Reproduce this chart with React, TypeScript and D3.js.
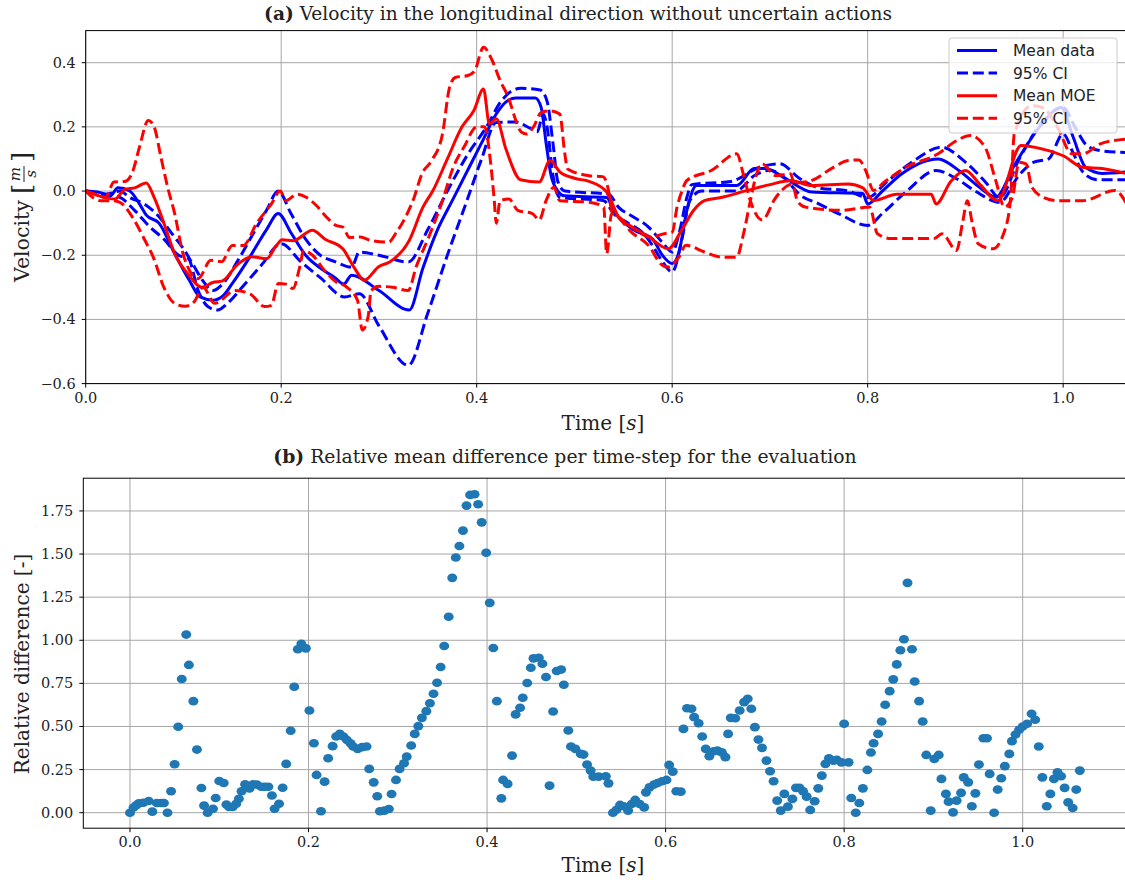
import React from "react";
import * as d3 from "d3";

// ---- panel (a): velocity traces, [time s, velocity m/s]
const meanData: [number, number][] = [
  [0, 0], [0.015, -0.005], [0.025, -0.015], [0.033, 0.01], [0.045, 0.0], [0.055, -0.04], [0.062, -0.075],
  [0.075, -0.1], [0.091, -0.195], [0.106, -0.278], [0.117, -0.33], [0.13, -0.34], [0.141, -0.325],
  [0.15, -0.288], [0.168, -0.205], [0.185, -0.12], [0.197, -0.07], [0.21, -0.13], [0.225, -0.2],
  [0.24, -0.24], [0.255, -0.27], [0.264, -0.29], [0.272, -0.262], [0.3, -0.31], [0.331, -0.371],
  [0.345, -0.24], [0.36, -0.12], [0.375, -0.03], [0.39, 0.06], [0.405, 0.15], [0.42, 0.24], [0.43, 0.278],
  [0.44, 0.29], [0.46, 0.29], [0.466, 0.26], [0.471, 0.15], [0.476, 0.05], [0.483, 0.0], [0.49, -0.015],
  [0.533, -0.02], [0.54, -0.06], [0.56, -0.12], [0.58, -0.15], [0.59, -0.2], [0.6, -0.226], [0.607, -0.19],
  [0.615, -0.06], [0.625, 0.017], [0.666, 0.017], [0.684, 0.07], [0.695, 0.07], [0.714, 0.043],
  [0.743, -0.003], [0.795, -0.008], [0.8, -0.04], [0.815, 0.0], [0.835, 0.054], [0.872, 0.1], [0.895, 0.06],
  [0.915, 0.01], [0.931, -0.019], [0.95, 0.08], [0.976, 0.2], [0.998, 0.26], [1.01, 0.17], [1.023, 0.074],
  [1.04, 0.055], [1.065, 0.06],
];
const dataUpper: [number, number][] = [
  [0, 0], [0.02, -0.01], [0.035, 0.0], [0.045, -0.02], [0.06, -0.04], [0.075, -0.08], [0.09, -0.14],
  [0.1, -0.18], [0.11, -0.23], [0.12, -0.28], [0.13, -0.31], [0.14, -0.29], [0.155, -0.22], [0.17, -0.14],
  [0.185, -0.06], [0.197, 0.0], [0.21, -0.07], [0.225, -0.15], [0.24, -0.2], [0.255, -0.22], [0.272, -0.237],
  [0.28, -0.19], [0.3, -0.2], [0.33, -0.221], [0.35, -0.12], [0.37, 0.0], [0.39, 0.11], [0.41, 0.2],
  [0.425, 0.28], [0.435, 0.31], [0.445, 0.32], [0.465, 0.315], [0.472, 0.28], [0.478, 0.15], [0.483, 0.03],
  [0.49, 0.0], [0.535, -0.01], [0.545, -0.05], [0.56, -0.08], [0.575, -0.11], [0.59, -0.16], [0.6, -0.19],
  [0.608, -0.12], [0.615, -0.02], [0.62, 0.02], [0.66, 0.03], [0.69, 0.075], [0.71, 0.085], [0.73, 0.04],
  [0.75, 0.01], [0.78, 0.0], [0.8, -0.02], [0.82, 0.03], [0.85, 0.1], [0.875, 0.137], [0.9, 0.09],
  [0.92, 0.03], [0.935, -0.02], [0.955, 0.1], [0.98, 0.22], [1.0, 0.26], [1.012, 0.2], [1.025, 0.14],
  [1.04, 0.125], [1.065, 0.12],
];
const dataLower: [number, number][] = [
  [0, 0], [0.02, -0.01], [0.035, -0.02], [0.05, -0.06], [0.065, -0.11], [0.08, -0.15], [0.095, -0.2],
  [0.105, -0.21], [0.115, -0.31], [0.125, -0.36], [0.135, -0.371], [0.145, -0.35], [0.16, -0.3],
  [0.18, -0.23], [0.2, -0.164], [0.22, -0.22], [0.24, -0.27], [0.265, -0.33], [0.28, -0.32], [0.3, -0.42],
  [0.33, -0.543], [0.35, -0.38], [0.37, -0.2], [0.39, -0.03], [0.405, 0.1], [0.42, 0.214], [0.44, 0.215],
  [0.455, 0.195], [0.462, 0.185], [0.468, 0.24], [0.472, 0.2], [0.478, 0.05], [0.485, -0.02], [0.53, -0.03],
  [0.54, -0.07], [0.555, -0.1], [0.57, -0.13], [0.58, -0.17], [0.59, -0.22], [0.6, -0.252], [0.61, -0.15],
  [0.618, -0.03], [0.63, 0.0], [0.665, 0.0], [0.685, 0.05], [0.7, 0.065], [0.715, 0.04], [0.73, -0.01],
  [0.75, -0.04], [0.77, -0.07], [0.8, -0.107], [0.815, -0.07], [0.84, 0.0], [0.87, 0.064], [0.89, 0.04],
  [0.91, 0.0], [0.935, -0.035], [0.955, 0.05], [0.97, 0.09], [0.985, 0.1], [1.0, 0.178], [1.01, 0.12],
  [1.02, 0.06], [1.035, 0.035], [1.065, 0.035],
];
const meanMoe: [number, number][] = [
  [0, 0], [0.02, -0.02], [0.03, -0.025], [0.04, 0.005], [0.05, 0.01], [0.062, 0.025], [0.07, -0.02],
  [0.08, -0.1], [0.091, -0.195], [0.105, -0.26], [0.119, -0.3], [0.13, -0.285], [0.14, -0.28],
  [0.155, -0.23], [0.17, -0.205], [0.185, -0.211], [0.195, -0.17], [0.201, -0.152], [0.212, -0.155],
  [0.232, -0.122], [0.245, -0.15], [0.263, -0.18], [0.275, -0.24], [0.285, -0.278], [0.3, -0.235],
  [0.311, -0.221], [0.331, -0.154], [0.345, -0.05], [0.355, 0.0], [0.37, 0.1], [0.385, 0.2], [0.397, 0.25],
  [0.407, 0.318], [0.413, 0.21], [0.42, 0.225], [0.43, 0.13], [0.445, 0.035], [0.464, 0.028], [0.475, 0.095],
  [0.485, 0.06], [0.5, 0.04], [0.515, 0.03], [0.533, -0.003], [0.545, -0.08], [0.559, -0.112],
  [0.575, -0.14], [0.596, -0.18], [0.61, -0.12], [0.622, -0.06], [0.633, -0.03], [0.65, -0.02],
  [0.677, 0.002], [0.7, 0.02], [0.721, 0.033], [0.743, 0.017], [0.78, 0.022], [0.795, 0.01], [0.806, -0.03],
  [0.83, -0.01], [0.865, -0.01], [0.87, -0.04], [0.885, 0.03], [0.9, 0.064], [0.915, 0.02], [0.933, -0.03],
  [0.957, 0.142], [0.98, 0.13], [1.0, 0.11], [1.02, 0.074], [1.04, 0.07], [1.065, 0.054],
];
const moeUpper: [number, number][] = [
  [0, 0], [0.01, -0.01], [0.02, -0.02], [0.029, 0.028], [0.04, 0.03], [0.048, 0.06], [0.055, 0.137],
  [0.064, 0.22], [0.07, 0.2], [0.077, 0.105], [0.084, 0.01], [0.091, -0.07], [0.1, -0.2], [0.115, -0.273],
  [0.128, -0.216], [0.139, -0.22], [0.15, -0.17], [0.161, -0.17], [0.175, -0.1], [0.19, -0.04], [0.199, 0.0],
  [0.205, -0.03], [0.216, -0.01], [0.226, -0.02], [0.236, -0.045], [0.246, -0.08], [0.256, -0.107],
  [0.263, -0.112], [0.27, -0.145], [0.281, -0.143], [0.292, -0.154], [0.31, -0.159], [0.318, -0.128],
  [0.329, -0.07], [0.336, -0.02], [0.344, 0.054], [0.354, 0.095], [0.365, 0.178], [0.372, 0.32],
  [0.378, 0.354], [0.391, 0.36], [0.398, 0.375], [0.407, 0.448], [0.416, 0.406], [0.424, 0.344],
  [0.431, 0.302], [0.446, 0.183], [0.451, 0.178], [0.458, 0.199], [0.466, 0.245], [0.475, 0.25],
  [0.485, 0.24], [0.49, 0.12], [0.493, 0.069], [0.515, 0.048], [0.529, 0.045], [0.535, 0.0], [0.538, -0.06],
  [0.545, -0.08], [0.56, -0.115], [0.577, -0.143], [0.592, -0.133], [0.6, -0.128], [0.605, -0.05],
  [0.61, 0.0], [0.615, 0.033], [0.64, 0.064], [0.666, 0.116], [0.673, 0.05], [0.68, -0.03], [0.692, -0.09],
  [0.706, -0.02], [0.72, 0.02], [0.743, 0.033], [0.765, 0.074], [0.78, 0.095], [0.791, 0.097],
  [0.798, 0.064], [0.806, 0.002], [0.817, 0.028], [0.839, 0.074], [0.872, 0.116], [0.891, 0.157],
  [0.905, 0.173], [0.92, 0.137], [0.931, 0.033], [0.94, -0.05], [0.948, -0.02], [0.955, 0.09],
  [0.962, 0.085], [0.968, 0.012], [0.98, -0.02], [0.994, -0.03], [1.02, -0.03], [1.053, 0.002],
  [1.065, -0.04],
];
const moeLower: [number, number][] = [
  [0, 0], [0.015, -0.03], [0.026, -0.03], [0.035, -0.035], [0.0475, -0.08], [0.06, -0.15], [0.069, -0.205],
  [0.08, -0.3], [0.091, -0.35], [0.102, -0.359], [0.111, -0.345], [0.12, -0.3], [0.132, -0.35],
  [0.153, -0.31], [0.168, -0.32], [0.183, -0.36], [0.19, -0.356], [0.197, -0.288], [0.205, -0.29],
  [0.212, -0.304], [0.219, -0.236], [0.223, -0.185], [0.232, -0.2], [0.245, -0.25], [0.256, -0.283],
  [0.267, -0.299], [0.278, -0.34], [0.283, -0.433], [0.289, -0.39], [0.292, -0.31], [0.3, -0.297],
  [0.314, -0.3], [0.33, -0.31], [0.338, -0.237], [0.351, -0.143], [0.365, -0.03], [0.376, 0.074],
  [0.387, 0.137], [0.4, 0.2], [0.408, 0.2], [0.414, 0.095], [0.418, -0.03], [0.42, -0.1], [0.424, -0.03],
  [0.433, -0.025], [0.442, -0.06], [0.457, -0.07], [0.464, -0.09], [0.471, -0.03], [0.479, 0.012],
  [0.485, -0.03], [0.515, -0.035], [0.53, -0.05], [0.533, -0.195], [0.538, -0.07], [0.559, -0.13],
  [0.577, -0.174], [0.588, -0.226], [0.596, -0.237], [0.607, -0.205], [0.614, -0.169], [0.633, -0.19],
  [0.651, -0.206], [0.666, -0.206], [0.673, -0.133], [0.68, -0.03], [0.686, 0.05], [0.692, 0.085],
  [0.706, 0.048], [0.721, 0.054], [0.728, -0.03], [0.736, -0.05], [0.773, -0.06], [0.802, -0.05],
  [0.81, -0.133], [0.824, -0.148], [0.868, -0.148], [0.876, -0.133], [0.891, -0.185], [0.897, -0.1],
  [0.902, -0.03], [0.907, -0.1], [0.913, -0.164], [0.928, -0.18], [0.939, -0.133], [0.946, -0.03],
  [0.95, 0.178], [0.968, 0.266], [0.979, 0.26], [0.994, 0.2], [1.009, 0.116], [1.02, 0.116],
  [1.038, 0.147], [1.065, 0.162],
];

// ---- panel (b): relative mean difference per time-step
const stepTime = [
  0.0, 0.004, 0.007, 0.01, 0.015, 0.021, 0.025, 0.03, 0.035, 0.038, 0.042, 0.046, 0.05, 0.054, 0.058, 0.063,
  0.066, 0.071, 0.075, 0.08, 0.083, 0.087, 0.093, 0.096, 0.1, 0.105, 0.108, 0.111, 0.115, 0.119, 0.122,
  0.125, 0.129, 0.134, 0.138, 0.142, 0.147, 0.151, 0.155, 0.159, 0.162, 0.167, 0.171, 0.175, 0.18, 0.184,
  0.188, 0.192, 0.197, 0.201, 0.206, 0.209, 0.214, 0.218, 0.222, 0.227, 0.231, 0.235, 0.239, 0.243, 0.247,
  0.25, 0.255, 0.26, 0.265, 0.268, 0.273, 0.277, 0.28, 0.285, 0.29, 0.293, 0.298, 0.302, 0.307, 0.31,
  0.315, 0.319, 0.323, 0.327, 0.332, 0.336, 0.34, 0.344, 0.348, 0.352, 0.357, 0.361, 0.365, 0.369, 0.373,
  0.377, 0.381, 0.386, 0.39, 0.394, 0.399, 0.403, 0.407, 0.411, 0.416, 0.418, 0.423, 0.428, 0.432, 0.437,
  0.44, 0.445, 0.449, 0.452, 0.458, 0.462, 0.466, 0.47, 0.474, 0.478, 0.483, 0.486, 0.491, 0.494, 0.499,
  0.505, 0.508, 0.512, 0.516, 0.519, 0.525, 0.533, 0.536, 0.541, 0.545, 0.549, 0.553, 0.558, 0.562, 0.566,
  0.571, 0.576, 0.578, 0.582, 0.587, 0.591, 0.596, 0.601, 0.604, 0.608, 0.612, 0.617, 0.62, 0.624, 0.629,
  0.632, 0.637, 0.641, 0.645, 0.649, 0.654, 0.658, 0.663, 0.667, 0.67, 0.673, 0.678, 0.683, 0.688, 0.692,
  0.696, 0.7, 0.704, 0.708, 0.713, 0.717, 0.721, 0.725, 0.729, 0.733, 0.737, 0.742, 0.746, 0.75, 0.754,
  0.758, 0.762, 0.767, 0.771, 0.775, 0.779, 0.783, 0.788, 0.792, 0.797, 0.8, 0.805, 0.808, 0.813, 0.817,
  0.821, 0.826, 0.83, 0.833, 0.838, 0.842, 0.846, 0.851, 0.855, 0.859, 0.863, 0.867, 0.871, 0.876, 0.879,
  0.884, 0.888, 0.892, 0.897, 0.901, 0.906, 0.909, 0.914, 0.917, 0.922, 0.926, 0.931, 0.934, 0.939, 0.943,
  0.947, 0.951, 0.956, 0.96, 0.963, 0.968, 0.972, 0.976, 0.98, 0.985, 0.988, 0.992, 0.996, 1.0, 1.005,
  1.01, 1.014, 1.018, 1.022, 1.027, 1.031, 1.035, 1.039, 1.043, 1.047, 1.051, 1.056, 1.06, 1.064,
];
const relDiff = [
  0.0, 0.03, 0.043, 0.054, 0.058, 0.068, 0.006, 0.056, 0.056, 0.056, 0.0, 0.124, 0.281, 0.498, 0.775, 1.033,
  0.857, 0.647, 0.366, 0.143, 0.041, 0.0, 0.023, 0.085, 0.184, 0.172, 0.047, 0.033, 0.033, 0.052, 0.081,
  0.124, 0.165, 0.14, 0.165, 0.163, 0.15, 0.15, 0.15, 0.1, 0.023, 0.052, 0.145, 0.283, 0.475, 0.73,
  0.948, 0.979, 0.953, 0.593, 0.403, 0.219, 0.008, 0.18, 0.316, 0.386, 0.442, 0.457, 0.442, 0.422, 0.403,
  0.384, 0.37, 0.38, 0.384, 0.254, 0.176, 0.095, 0.008, 0.012, 0.021, 0.108, 0.19, 0.254, 0.287, 0.325,
  0.39, 0.457, 0.502, 0.55, 0.589, 0.635, 0.69, 0.754, 0.845, 0.967, 1.136, 1.362, 1.48, 1.547, 1.636,
  1.781, 1.843, 1.847, 1.789, 1.684, 1.508, 1.217, 0.955, 0.647, 0.083, 0.19, 0.167, 0.331, 0.57, 0.609,
  0.667, 0.752, 0.841, 0.895, 0.899, 0.864, 0.787, 0.157, 0.587, 0.822, 0.83, 0.742, 0.477, 0.384, 0.37,
  0.341, 0.337, 0.279, 0.244, 0.209, 0.209, 0.211, 0.17, 0.0, 0.017, 0.045, 0.037, 0.012, 0.05, 0.074,
  0.05, 0.031, 0.118, 0.147, 0.163, 0.172, 0.182, 0.19, 0.277, 0.238, 0.124, 0.122, 0.486, 0.606, 0.603,
  0.554, 0.519, 0.442, 0.37, 0.327, 0.356, 0.36, 0.35, 0.322, 0.457, 0.55, 0.548, 0.593, 0.641, 0.661,
  0.603, 0.496, 0.424, 0.376, 0.302, 0.24, 0.182, 0.07, 0.012, 0.109, 0.035, 0.08, 0.144, 0.144, 0.124,
  0.093, 0.016, 0.066, 0.141, 0.215, 0.283, 0.316, 0.302, 0.306, 0.292, 0.516, 0.292, 0.085, 0.0, 0.056,
  0.141, 0.248, 0.349, 0.403, 0.457, 0.529, 0.626, 0.705, 0.773, 0.86, 0.942, 1.006, 1.333, 0.948, 0.761,
  0.647, 0.529, 0.335, 0.012, 0.312, 0.335, 0.196, 0.109, 0.064, 0.002, 0.07, 0.115, 0.205, 0.176, 0.037,
  0.112, 0.279, 0.432, 0.432, 0.225, 0.0, 0.134, 0.2, 0.27, 0.341, 0.415, 0.453, 0.481, 0.5, 0.516,
  0.574, 0.539, 0.384, 0.205, 0.037, 0.109, 0.196, 0.234, 0.211, 0.144, 0.06, 0.027, 0.134, 0.244,
];

const topXTicks = [0, 0.2, 0.4, 0.6, 0.8, 1.0];
const topYTicks = [-0.6, -0.4, -0.2, 0.0, 0.2, 0.4];
const botXTicks = [0, 0.2, 0.4, 0.6, 0.8, 1.0];
const botYTicks = [0, 0.25, 0.5, 0.75, 1.0, 1.25, 1.5, 1.75];

const BLUE = "#0000ff";
const RED = "#ff0000";
const DOT = "#1f77b4";
const SERIF = "DejaVu Serif";
const GRID = "#a6a6a6";
const minus = (s: string) => s.replace("-", "\u2212");

export default function App() {
  const x1 = d3.scaleLinear().domain([0, 1.065]).range([85.7, 1126.7]);
  const y1 = d3.scaleLinear().domain([-0.6, 0.5]).range([383.6, 30.6]);
  const x2 = d3.scaleLinear().domain([-0.0523, 1.12]).range([83.3, 1129.8]);
  const y2 = d3.scaleLinear().domain([-0.09, 1.94]).range([828.2, 478.2]);

  const line = d3
    .line<[number, number]>()
    .x((d) => x1(d[0]))
    .y((d) => y1(d[1]))
    .curve(d3.curveMonotoneX);

  const dash = "11 4.8";
  const series = [
    { d: meanData, c: BLUE, dash: undefined },
    { d: dataUpper, c: BLUE, dash },
    { d: dataLower, c: BLUE, dash },
    { d: meanMoe, c: RED, dash: undefined },
    { d: moeUpper, c: RED, dash },
    { d: moeLower, c: RED, dash },
  ];

  const legend = [
    { label: "Mean data", c: BLUE, dash: undefined },
    { label: "95% CI", c: BLUE, dash },
    { label: "Mean MOE", c: RED, dash: undefined },
    { label: "95% CI", c: RED, dash },
  ];

  const [t1l, t1r] = x1.range();
  const [t1b, t1t] = y1.range();
  const [b2l, b2r] = x2.range();
  const [b2b, b2t] = y2.range();

  return (
    <svg
      width={1125}
      height={883}
      style={{ position: "absolute", left: 0, top: 0, background: "#fff" }}
      fontFamily={SERIF}
    >
      <defs>
        <clipPath id="clipTop">
          <rect x={t1l} y={t1t} width={t1r - t1l} height={t1b - t1t} />
        </clipPath>
        <clipPath id="clipBot">
          <rect x={b2l} y={b2t} width={b2r - b2l} height={b2b - b2t} />
        </clipPath>
      </defs>

      {/* ---------- panel (a) ---------- */}
      <text x={578} y={20} textAnchor="middle" fontSize={18.6} fill="#222">
        <tspan fontWeight="bold">(a)</tspan> Velocity in the longitudinal direction without uncertain actions
      </text>
      <g stroke={GRID} strokeWidth={1}>
        {topXTicks.map((t) => (
          <line key={t} x1={x1(t)} x2={x1(t)} y1={t1t} y2={t1b} />
        ))}
        {topYTicks.map((t) => (
          <line key={t} x1={t1l} x2={t1r} y1={y1(t)} y2={y1(t)} />
        ))}
      </g>
      <g clipPath="url(#clipTop)" fill="none" strokeWidth={3}>
        {series.map((s, i) => (
          <path key={i} d={line(s.d) || ""} stroke={s.c} strokeDasharray={s.dash} />
        ))}
      </g>
      <rect x={t1l} y={t1t} width={t1r - t1l} height={t1b - t1t} fill="none" stroke="#000" strokeWidth={1} />
      <g fontSize={14.5} fill="#222">
        {topXTicks.map((t) => (
          <g key={t}>
            <line x1={x1(t)} x2={x1(t)} y1={t1b} y2={t1b + 4} stroke="#000" />
            <text x={x1(t)} y={t1b + 19} textAnchor="middle">
              {t.toFixed(1)}
            </text>
          </g>
        ))}
        {topYTicks.map((t) => (
          <g key={t}>
            <line x1={t1l - 4} x2={t1l} y1={y1(t)} y2={y1(t)} stroke="#000" />
            <text x={t1l - 10} y={y1(t) + 5} textAnchor="end">
              {minus(t.toFixed(1))}
            </text>
          </g>
        ))}
      </g>
      <text x={603} y={430} textAnchor="middle" fontSize={20} fill="#222">
        Time [<tspan fontStyle="italic">s</tspan>]
      </text>
      <g transform="translate(29,207) rotate(-90)" fill="#222">
        <text x={-75} y={0} fontSize={20.5}>
          Velocity
        </text>
        <text x={13} y={2} fontSize={26} fontWeight="200">
          [
        </text>
        <text x={33} y={-9} textAnchor="middle" fontSize={15} fontStyle="italic">
          m
        </text>
        <line x1={25} x2={41} y1={-5} y2={-5} stroke="#222" strokeWidth={1} />
        <text x={33} y={7} textAnchor="middle" fontSize={15} fontStyle="italic">
          s
        </text>
        <text x={45} y={2} fontSize={26} fontWeight="200">
          ]
        </text>
      </g>
      <g fontFamily="DejaVu Sans" fontSize={15.5}>
        <rect x={949} y={38} width={168} height={95} rx={3} fill="#fff" fillOpacity={0.8} stroke="#cccccc" />
        {legend.map((l, i) => {
          const cy = 50.5 + i * 22.6;
          return (
            <g key={i}>
              <line x1={957} x2={997} y1={cy} y2={cy} stroke={l.c} strokeWidth={3} strokeDasharray={l.dash} />
              <text x={1013} y={cy + 5.5} fill="#222">
                {l.label}
              </text>
            </g>
          );
        })}
      </g>

      {/* ---------- panel (b) ---------- */}
      <text x={565} y={463} textAnchor="middle" fontSize={18.8} fill="#222">
        <tspan fontWeight="bold">(b)</tspan> Relative mean difference per time-step for the evaluation
      </text>
      <g stroke={GRID} strokeWidth={1}>
        {botXTicks.map((t) => (
          <line key={t} x1={x2(t)} x2={x2(t)} y1={b2t} y2={b2b} />
        ))}
        {botYTicks.map((t) => (
          <line key={t} x1={b2l} x2={b2r} y1={y2(t)} y2={y2(t)} />
        ))}
      </g>
      <g clipPath="url(#clipBot)" fill={DOT}>
        {stepTime.map((t, i) => (
          <ellipse key={i} cx={x2(t)} cy={y2(relDiff[i])} rx={5} ry={4.3} />
        ))}
      </g>
      <rect x={b2l} y={b2t} width={b2r - b2l} height={b2b - b2t} fill="none" stroke="#000" strokeWidth={1} />
      <g fontSize={14.5} fill="#222">
        {botXTicks.map((t) => (
          <g key={t}>
            <line x1={x2(t)} x2={x2(t)} y1={b2b} y2={b2b + 4} stroke="#000" />
            <text x={x2(t)} y={b2b + 19} textAnchor="middle">
              {t.toFixed(1)}
            </text>
          </g>
        ))}
        {botYTicks.map((t) => (
          <g key={t}>
            <line x1={b2l - 4} x2={b2l} y1={y2(t)} y2={y2(t)} stroke="#000" />
            <text x={b2l - 10} y={y2(t) + 5} textAnchor="end">
              {t.toFixed(2)}
            </text>
          </g>
        ))}
      </g>
      <text x={603} y={872} textAnchor="middle" fontSize={20} fill="#222">
        Time [<tspan fontStyle="italic">s</tspan>]
      </text>
      <text transform="translate(29,664) rotate(-90)" textAnchor="middle" fontSize={20} fill="#222">
        Relative difference [-]
      </text>
    </svg>
  );
}
